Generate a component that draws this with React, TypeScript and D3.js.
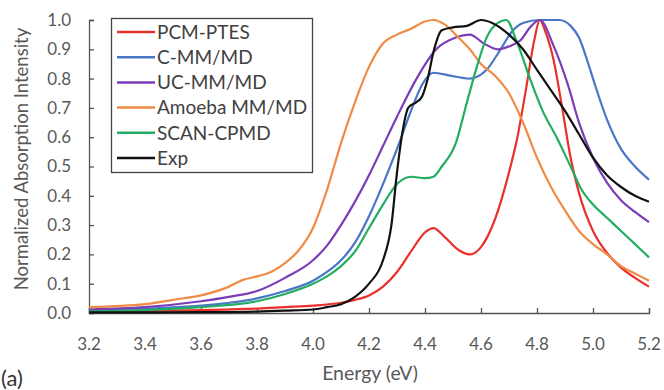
import { useRef, useEffect } from 'react';
import * as d3 from 'd3';

// spectra: [energy (eV), normalized intensity]
const pcmPtes = [
  [3.2, 0.005], [3.4, 0.007], [3.6, 0.01], [3.8, 0.015], [3.9, 0.02], [4.0, 0.025],
  [4.1, 0.035], [4.15, 0.045], [4.2, 0.06], [4.25, 0.09], [4.3, 0.14], [4.35, 0.21],
  [4.4, 0.275], [4.43, 0.29], [4.47, 0.26], [4.52, 0.215], [4.56, 0.2], [4.6, 0.225],
  [4.65, 0.32], [4.7, 0.48], [4.73, 0.6], [4.76, 0.76], [4.79, 0.93], [4.81, 1.0],
  [4.83, 0.96], [4.86, 0.86], [4.89, 0.7], [4.92, 0.53], [4.95, 0.41], [5.0, 0.28],
  [5.05, 0.205], [5.1, 0.155], [5.15, 0.12], [5.2, 0.09],
];
const cMmMd = [
  [3.2, 0.01], [3.4, 0.015], [3.6, 0.025], [3.8, 0.05], [3.9, 0.075], [4.0, 0.11],
  [4.05, 0.14], [4.1, 0.18], [4.15, 0.24], [4.2, 0.33], [4.25, 0.44], [4.3, 0.56],
  [4.35, 0.69], [4.39, 0.78], [4.43, 0.82], [4.49, 0.81], [4.56, 0.8], [4.62, 0.83],
  [4.67, 0.9], [4.71, 0.96], [4.75, 0.99], [4.81, 1.0], [4.88, 1.0], [4.92, 0.98],
  [4.95, 0.94], [4.98, 0.86], [5.0, 0.8], [5.05, 0.66], [5.1, 0.56], [5.15, 0.5],
  [5.2, 0.455],
];
const ucMmMd = [
  [3.2, 0.012], [3.4, 0.02], [3.6, 0.04], [3.7, 0.055], [3.8, 0.075], [3.9, 0.12],
  [4.0, 0.18], [4.05, 0.23], [4.1, 0.3], [4.15, 0.38], [4.2, 0.47], [4.25, 0.57],
  [4.3, 0.67], [4.37, 0.8], [4.44, 0.9], [4.51, 0.94], [4.56, 0.95], [4.61, 0.92],
  [4.66, 0.9], [4.7, 0.91], [4.74, 0.93], [4.78, 0.98], [4.81, 1.0], [4.86, 0.91],
  [4.91, 0.78], [4.95, 0.65], [5.0, 0.53], [5.05, 0.445], [5.1, 0.385], [5.15, 0.345],
  [5.2, 0.31],
];
const amoeba = [
  [3.2, 0.02], [3.4, 0.03], [3.5, 0.045], [3.6, 0.06], [3.7, 0.09], [3.75, 0.113],
  [3.8, 0.125], [3.85, 0.14], [3.9, 0.17], [3.95, 0.215], [4.0, 0.29], [4.05, 0.42],
  [4.1, 0.58], [4.15, 0.72], [4.2, 0.84], [4.25, 0.92], [4.3, 0.95], [4.35, 0.97],
  [4.4, 0.995], [4.43, 1.0], [4.47, 0.985], [4.52, 0.94], [4.56, 0.9], [4.6, 0.85],
  [4.65, 0.81], [4.7, 0.75], [4.75, 0.65], [4.8, 0.53], [4.85, 0.43], [4.9, 0.35],
  [4.95, 0.28], [5.0, 0.235], [5.05, 0.2], [5.1, 0.16], [5.15, 0.135], [5.2, 0.11],
];
const scanCpmd = [
  [3.2, 0.005], [3.4, 0.01], [3.6, 0.02], [3.8, 0.04], [3.9, 0.065], [4.0, 0.1],
  [4.05, 0.125], [4.1, 0.16], [4.15, 0.21], [4.2, 0.29], [4.25, 0.37], [4.3, 0.44],
  [4.35, 0.465], [4.4, 0.46], [4.43, 0.465], [4.46, 0.5], [4.51, 0.58], [4.55, 0.72],
  [4.585, 0.84], [4.62, 0.94], [4.66, 0.99], [4.69, 1.0], [4.73, 0.92], [4.775, 0.8],
  [4.82, 0.69], [4.87, 0.6], [4.92, 0.5], [4.96, 0.42], [5.0, 0.37], [5.05, 0.325],
  [5.1, 0.28], [5.15, 0.235], [5.2, 0.19],
];
const expSpec = [
  [3.2, 0.002], [3.6, 0.003], [3.8, 0.005], [3.9, 0.008], [4.0, 0.012], [4.05, 0.02],
  [4.1, 0.03], [4.15, 0.055], [4.2, 0.1], [4.25, 0.18], [4.28, 0.3], [4.3, 0.48],
  [4.32, 0.62], [4.34, 0.7], [4.37, 0.72], [4.39, 0.74], [4.41, 0.8], [4.43, 0.89],
  [4.46, 0.965], [4.5, 0.975], [4.55, 0.98], [4.6, 1.0], [4.64, 0.99], [4.7, 0.95],
  [4.75, 0.9], [4.8, 0.83], [4.85, 0.76], [4.9, 0.69], [4.95, 0.61], [5.0, 0.53],
  [5.05, 0.47], [5.1, 0.43], [5.15, 0.4], [5.2, 0.38],
];

const seriesNames = ['PCM-PTES', 'C-MM/MD', 'UC-MM/MD', 'Amoeba MM/MD', 'SCAN-CPMD', 'Exp'];
const seriesData = [pcmPtes, cMmMd, ucMmMd, amoeba, scanCpmd, expSpec];
const seriesColors = ['#e8312b', '#4a76c8', '#7b3cb8', '#ef8b45', '#22ad62', '#111111'];

const xTicks = [3.2, 3.4, 3.6, 3.8, 4.0, 4.2, 4.4, 4.6, 4.8, 5.0, 5.2];
const yTicks = [0, 0.1, 0.2, 0.3, 0.4, 0.5, 0.6, 0.7, 0.8, 0.9, 1.0];

const FONT = 'Lato, "Open Sans", sans-serif';
const TEXT = '#595959';

const App = () => {
  const svgRef = useRef();

  useEffect(() => {
    const width = 664, height = 390;
    const svg = d3.select(svgRef.current);
    svg.selectAll('*').remove();
    svg.attr('width', width).attr('height', height);

    const x = d3.scaleLinear().domain([3.2, 5.2]).range([89, 649]);
    const y = d3.scaleLinear().domain([0, 1]).range([313, 20]);

    // axes, ticks pointing inward
    const yAxis = svg.append('g')
      .attr('transform', `translate(${x(3.2)},0)`)
      .call(d3.axisRight(y).tickValues(yTicks).tickSize(5).tickFormat(''));
    const xAxis = svg.append('g')
      .attr('transform', `translate(0,${y(0)})`)
      .call(d3.axisTop(x).tickValues(xTicks).tickSize(5).tickFormat(''));
    [yAxis, xAxis].forEach(a => {
      a.select('.domain').attr('stroke', '#555').attr('stroke-width', 1.3);
      a.selectAll('line').attr('stroke', '#555').attr('stroke-width', 1.3);
    });

    svg.append('g').selectAll('text')
      .data(yTicks)
      .enter()
      .append('text')
      .attr('x', 71)
      .attr('y', d => y(d))
      .attr('dy', '0.35em')
      .attr('text-anchor', 'end')
      .style('font-family', FONT)
      .style('font-size', '17px')
      .attr('fill', TEXT)
      .text(d => d.toFixed(1));

    svg.append('g').selectAll('text')
      .data(xTicks)
      .enter()
      .append('text')
      .attr('x', d => x(d))
      .attr('y', 350)
      .attr('text-anchor', 'middle')
      .style('font-family', FONT)
      .style('font-size', '17px')
      .attr('fill', TEXT)
      .text(d => d.toFixed(1));

    svg.append('text')
      .attr('x', 370)
      .attr('y', 380)
      .attr('text-anchor', 'middle')
      .style('font-family', FONT)
      .style('font-size', '19.5px')
      .attr('fill', TEXT)
      .text('Energy (eV)');

    svg.append('text')
      .attr('transform', 'translate(28,159) rotate(-90)')
      .attr('text-anchor', 'middle')
      .style('font-family', FONT)
      .style('font-size', '18.5px')
      .attr('fill', TEXT)
      .text('Normalized Absorption Intensity');

    svg.append('text')
      .attr('x', 1)
      .attr('y', 386)
      .style('font-family', FONT)
      .style('font-size', '22px')
      .attr('fill', '#333')
      .text('(a)');

    // spectra
    const line = d3.line()
      .x(d => x(d[0]))
      .y(d => y(d[1]))
      .curve(d3.curveMonotoneX);

    svg.append('g').selectAll('path')
      .data(seriesData)
      .enter()
      .append('path')
      .attr('d', d => line(d))
      .attr('fill', 'none')
      .attr('stroke', (d, i) => seriesColors[i])
      .attr('stroke-width', 2.2)
      .attr('stroke-linejoin', 'round');

    // legend
    const legend = svg.append('g');
    legend.append('rect')
      .attr('x', 111.5).attr('y', 18.5)
      .attr('width', 201).attr('height', 154)
      .attr('fill', 'white')
      .attr('stroke', '#444')
      .attr('stroke-width', 1.3);

    const rows = legend.selectAll('.row')
      .data(seriesNames)
      .enter()
      .append('g')
      .attr('transform', (d, i) => `translate(0,${32 + i * 25.2})`);
    rows.append('line')
      .attr('x1', 117).attr('x2', 155)
      .attr('stroke', (d, i) => seriesColors[i])
      .attr('stroke-width', 2.5);
    rows.append('text')
      .attr('x', 157)
      .attr('dy', '0.36em')
      .style('font-family', FONT)
      .style('font-size', '19px')
      .attr('fill', '#404040')
      .text(d => d);
  }, []);

  return <svg ref={svgRef} style={{ position: 'absolute', left: 0, top: 0 }}></svg>;
};

export default App;
